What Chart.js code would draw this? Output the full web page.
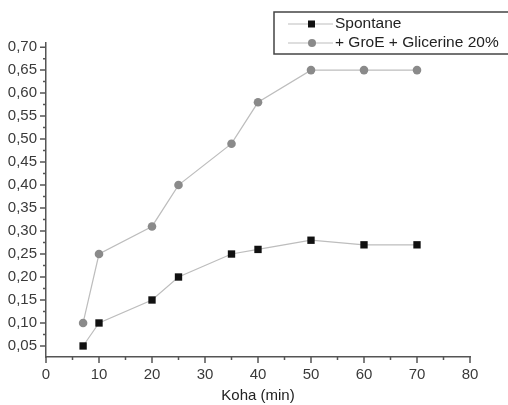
<!DOCTYPE html>
<html>
<head>
<meta charset="utf-8">
<script src="https://cdn.jsdelivr.net/npm/chart.js@4"></script>
<style>
  html, body { margin: 0; padding: 0; background: #fff; }
  #wrap { width: 508px; height: 405px; }
</style>
</head>
<body>
<div id="wrap"><canvas id="myChart" width="508" height="405"></canvas></div>
<script>
// values
var times = [7, 10, 20, 25, 35, 40, 50, 60, 70];
var spontane = [0.05, 0.10, 0.15, 0.20, 0.25, 0.26, 0.28, 0.27, 0.27];
var groe = [0.10, 0.25, 0.31, 0.40, 0.49, 0.58, 0.65, 0.65, 0.65];
var seriesNames = ['Spontane', '+ GroE + Glicerine 20%'];
var yTicks = [0.05, 0.10, 0.15, 0.20, 0.25, 0.30, 0.35, 0.40, 0.45, 0.50, 0.55, 0.60, 0.65, 0.70];
var xTicks = [0, 10, 20, 30, 40, 50, 60, 70, 80];

function pts(vals) {
  return times.map(function (t, i) { return { x: t, y: vals[i] }; });
}

var axisColor = '#555';
var textColor = '#3a3a3a';
var font = { family: 'Liberation Sans', size: 15 };

// minor/major ticks drawn outward, like the original plot
var tickPlugin = {
  id: 'ticks',
  afterDraw: function (chart) {
    var ctx = chart.ctx, xs = chart.scales.x, ys = chart.scales.y;
    var area = chart.chartArea;
    ctx.save();
    ctx.strokeStyle = axisColor;
    ctx.lineWidth = 1.5;
    ctx.beginPath();
    for (var v = 0; v <= 80; v += 5) {
      var px = xs.getPixelForValue(v);
      var len = v % 10 === 0 ? 6 : 3;
      ctx.moveTo(px, area.bottom);
      ctx.lineTo(px, area.bottom + len);
    }
    for (var i = 0; i < yTicks.length; i++) {
      var py = ys.getPixelForValue(yTicks[i]);
      ctx.moveTo(area.left, py);
      ctx.lineTo(area.left - 6, py);
      var pm = ys.getPixelForValue(yTicks[i] + 0.025);
      if (pm >= area.top) {
        ctx.moveTo(area.left, pm);
        ctx.lineTo(area.left - 3, pm);
      }
    }
    ctx.stroke();
    ctx.restore();
  }
};

// legend box in the upper right
var legendPlugin = {
  id: 'boxLegend',
  afterDraw: function (chart) {
    var ctx = chart.ctx;
    ctx.save();
    ctx.fillStyle = '#fff';
    ctx.fillRect(274, 12, 240, 42);
    ctx.strokeStyle = '#444';
    ctx.lineWidth = 1.5;
    ctx.strokeRect(274, 12, 240, 42);
    var rows = [24, 43];
    chart.data.datasets.forEach(function (ds, i) {
      var y = rows[i];
      ctx.strokeStyle = ds.borderColor;
      ctx.lineWidth = 1;
      ctx.beginPath();
      ctx.moveTo(288, y);
      ctx.lineTo(333, y);
      ctx.stroke();
      ctx.fillStyle = ds.pointBackgroundColor;
      if (ds.pointStyle === 'rect') {
        ctx.fillRect(308, y - 3.5, 7, 7);
      } else {
        ctx.beginPath();
        ctx.arc(312, y, 4, 0, Math.PI * 2);
        ctx.fill();
      }
      ctx.fillStyle = '#222';
      ctx.font = '15.5px "Liberation Sans"';
      ctx.textBaseline = 'middle';
      ctx.fillText(ds.label, 335, y);
    });
    ctx.restore();
  }
};

var ctx = document.getElementById('myChart').getContext('2d');
var myChart = new Chart(ctx, {
  type: 'scatter',
  data: {
    datasets: [{
      label: seriesNames[0],
      data: pts(spontane),
      showLine: true,
      borderColor: '#bdbdbd',
      borderWidth: 1.2,
      pointStyle: 'rect',
      pointRadius: 5.2,
      pointBackgroundColor: '#111',
      pointBorderColor: '#111',
      pointBorderWidth: 0
    }, {
      label: seriesNames[1],
      data: pts(groe),
      showLine: true,
      borderColor: '#bdbdbd',
      borderWidth: 1.2,
      pointStyle: 'circle',
      pointRadius: 4.3,
      pointBackgroundColor: '#8a8a8a',
      pointBorderColor: '#8a8a8a',
      pointBorderWidth: 0
    }]
  },
  options: {
    responsive: false,
    animation: false,
    layout: { padding: { left: 0, right: 38, top: 43, bottom: 0 } },
    plugins: { legend: { display: false }, tooltip: { enabled: false } },
    scales: {
      x: {
        type: 'linear',
        min: 0,
        max: 80,
        afterBuildTicks: function (s) { s.ticks = xTicks.map(function (v) { return { value: v }; }); },
        afterFit: function (s) { s.height = 48; },
        grid: { display: false, drawTicks: false },
        border: { display: true, color: axisColor, width: 1.5 },
        ticks: { color: textColor, font: font, padding: 9, maxRotation: 0 },
        title: { display: true, text: 'Koha (min)', color: '#222', font: { family: 'Liberation Sans', size: 15 }, padding: { top: 1, bottom: 0 } }
      },
      y: {
        type: 'linear',
        min: 0.026,
        max: 0.709,
        afterBuildTicks: function (s) { s.ticks = yTicks.map(function (v) { return { value: v }; }); },
        afterFit: function (s) { s.width = 46; },
        grid: { display: false, drawTicks: false },
        border: { display: true, color: axisColor, width: 1.5 },
        ticks: {
          color: textColor,
          font: font,
          padding: 9,
          callback: function (v) { return v.toFixed(2).replace('.', ','); }
        }
      }
    }
  },
  plugins: [tickPlugin, legendPlugin]
});
</script>
</body>
</html>
